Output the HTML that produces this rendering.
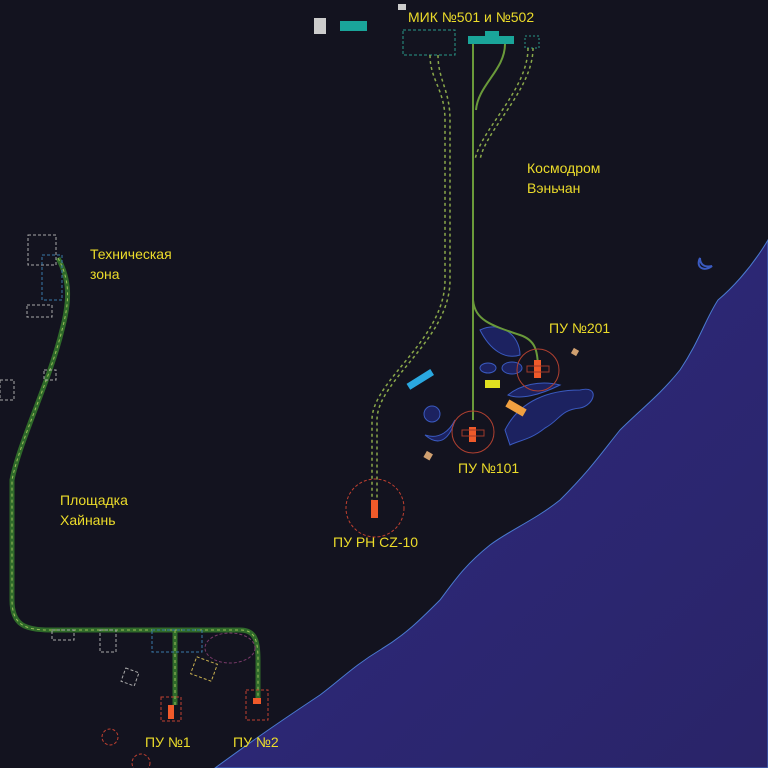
<!DOCTYPE html>
<html><head><meta charset="utf-8"><style>
html,body{margin:0;padding:0;background:#13131f;}
svg{display:block}
text{font-family:"Liberation Sans",sans-serif;font-size:14px;fill:#ecdc2a;}
</style></head><body>
<svg width="768" height="768" viewBox="0 0 768 768" xmlns="http://www.w3.org/2000/svg">
<defs>
<linearGradient id="sea" x1="0" y1="0" x2="1" y2="1">
<stop offset="0" stop-color="#2e2a80"/><stop offset="1" stop-color="#2a2468"/>
</linearGradient>
</defs>
<rect width="768" height="768" fill="#13131f"/>
<path d="M768,240 C750,270 730,290 718,300 C705,320 700,340 680,370 C660,395 640,410 620,430 C600,455 590,470 560,500 C535,520 510,530 490,545 C465,565 455,580 440,600 C420,620 405,635 380,650 C355,665 340,680 320,695 C290,715 260,735 215,768 L768,768 Z" fill="url(#sea)" stroke="#4a7ad0" stroke-width="1"/>
<!-- top blocks -->
<rect x="314" y="18" width="12" height="16" fill="#cccccc"/>
<rect x="340" y="21" width="27" height="10" fill="#1aa59a"/>
<rect x="398" y="4" width="8" height="6" fill="#cccccc"/>
<rect x="403" y="30" width="52" height="25" fill="none" stroke="#2a9a8a" stroke-dasharray="3,2"/>
<rect x="468" y="36" width="46" height="8" fill="#1aa59a"/>
<rect x="485" y="31" width="14" height="6" fill="#1aa59a"/>
<rect x="525" y="36" width="14" height="12" fill="none" stroke="#2a9a8a" stroke-dasharray="2,2"/>
<text x="408" y="22">МИК №501 и №502</text>
<text x="527" y="173">Космодром</text>
<text x="527" y="193">Вэньчан</text>
<text x="90" y="259">Техническая</text>
<text x="90" y="279">зона</text>
<text x="60" y="505">Площадка</text>
<text x="60" y="525">Хайнань</text>
<text x="549" y="333">ПУ №201</text>
<text x="458" y="473">ПУ №101</text>
<text x="333" y="547">ПУ РН CZ-10</text>
<text x="145" y="747">ПУ №1</text>
<text x="233" y="747">ПУ №2</text>
<!-- bay shapes -->
<g fill="#1c2260" stroke="#3a5ac0" stroke-width="1">
<path d="M480,330 C500,320 520,335 520,355 C505,360 490,350 480,330Z"/>
<ellipse cx="488" cy="368" rx="8" ry="5"/>
<ellipse cx="512" cy="368" rx="10" ry="6"/>
<ellipse cx="432" cy="414" rx="8" ry="8"/>
<path d="M425,435 C440,440 450,430 455,420 C450,438 440,448 425,435Z"/>
<path d="M505,430 C520,400 550,390 580,390 C600,385 595,405 580,408 C560,410 560,420 545,428 C530,440 520,440 510,445Z"/>
<path d="M508,395 C520,385 540,380 560,385 C540,395 520,400 508,395Z"/>
</g>
<!-- roads -->
<g fill="none" stroke="#6a9a3a" stroke-width="2">
<path d="M473,44 L473,420"/>
<path d="M473,300 C475,320 490,325 520,335 C535,340 538,350 538,370"/>
<path d="M505,44 C505,70 478,85 476,110"/>
</g>
<g fill="none" stroke="#8aa84a" stroke-width="1.5" stroke-dasharray="3,3">
<path d="M430,55 C430,80 445,90 445,120 L445,280 C445,340 372,380 372,420 L372,500"/>
<path d="M438,55 C438,80 450,90 450,120 L450,280 C450,340 377,380 377,420 L377,500"/>
<path d="M528,48 C528,90 480,130 475,160"/>
<path d="M533,48 C533,90 485,130 480,160"/>
</g>
<g fill="none" stroke="#2f6a2a" stroke-width="5">
<path d="M58,258 C70,280 70,300 62,330 C50,380 20,440 12,480 L12,600 C12,625 25,630 50,630 L240,630 C255,630 258,640 258,660 L258,700"/>
<path d="M175,630 L175,705"/>
</g>
<g fill="none" stroke="#9abf5a" stroke-width="1" stroke-dasharray="3,3">
<path d="M58,258 C70,280 70,300 62,330 C50,380 20,440 12,480 L12,600 C12,625 25,630 50,630 L240,630 C255,630 258,640 258,660 L258,700"/>
<path d="M175,630 L175,705"/>
</g>
<!-- dashed misc -->
<g fill="none" stroke-dasharray="3,2" stroke-width="1">
<rect x="152" y="630" width="50" height="22" stroke="#3a7aaa"/>
<ellipse cx="230" cy="648" rx="25" ry="15" stroke="#7a3a6a"/>
<rect x="193" y="660" width="22" height="18" stroke="#c8b050" transform="rotate(20 204 669)"/>
<rect x="123" y="670" width="14" height="14" stroke="#aaaaaa" transform="rotate(20 130 677)"/>
<rect x="52" y="630" width="22" height="10" stroke="#aaaaaa"/>
<rect x="100" y="630" width="16" height="22" stroke="#aaaaaa"/>
<rect x="161" y="697" width="20" height="24" stroke="#c04030"/>
<rect x="246" y="690" width="22" height="30" stroke="#c04030"/>
<circle cx="110" cy="737" r="8" stroke="#c04030"/>
<circle cx="141" cy="763" r="9" stroke="#c04030"/>
<rect x="28" y="235" width="28" height="30" stroke="#aaaaaa"/>
<rect x="42" y="255" width="20" height="45" stroke="#3a7aaa"/>
<rect x="27" y="305" width="25" height="12" stroke="#aaaaaa"/>
<rect x="0" y="380" width="14" height="20" stroke="#aaaaaa"/>
<rect x="44" y="370" width="12" height="10" stroke="#aaaaaa"/>
<circle cx="375" cy="508" r="29" stroke="#c04030"/>
</g>
<!-- launch circles -->
<g fill="none" stroke="#b04030" stroke-width="1">
<circle cx="538" cy="370" r="21"/>
<circle cx="473" cy="432" r="21"/>
</g>
<path d="M700,258 C695,268 705,272 712,266 C704,268 700,264 700,258Z" fill="none" stroke="#3a5ac0" stroke-width="2"/>
<!-- pads -->
<g fill="#f05a2a">
<rect x="534" y="360" width="7" height="18"/>
<rect x="469" y="427" width="7" height="15"/>
<rect x="371" y="500" width="7" height="18"/>
<rect x="168" y="705" width="6" height="14"/>
<rect x="253" y="698" width="8" height="6"/>
</g>
<g fill="none" stroke="#a03a2a">
<rect x="527" y="366" width="22" height="6"/>
<rect x="462" y="430" width="22" height="6"/>
</g>
<!-- colored blocks -->
<rect x="406" y="376" width="28" height="7" fill="#2aa8e0" transform="rotate(-32 420 379)"/>
<rect x="485" y="380" width="15" height="8" fill="#e0e020"/>
<rect x="506" y="404" width="20" height="8" fill="#f0a040" transform="rotate(30 516 408)"/>
<rect x="572" y="349" width="6" height="6" fill="#d0a070" transform="rotate(30 575 352)"/>
<rect x="425" y="452" width="7" height="7" fill="#d0a070" transform="rotate(30 428 455)"/>
</svg>
</body></html>
